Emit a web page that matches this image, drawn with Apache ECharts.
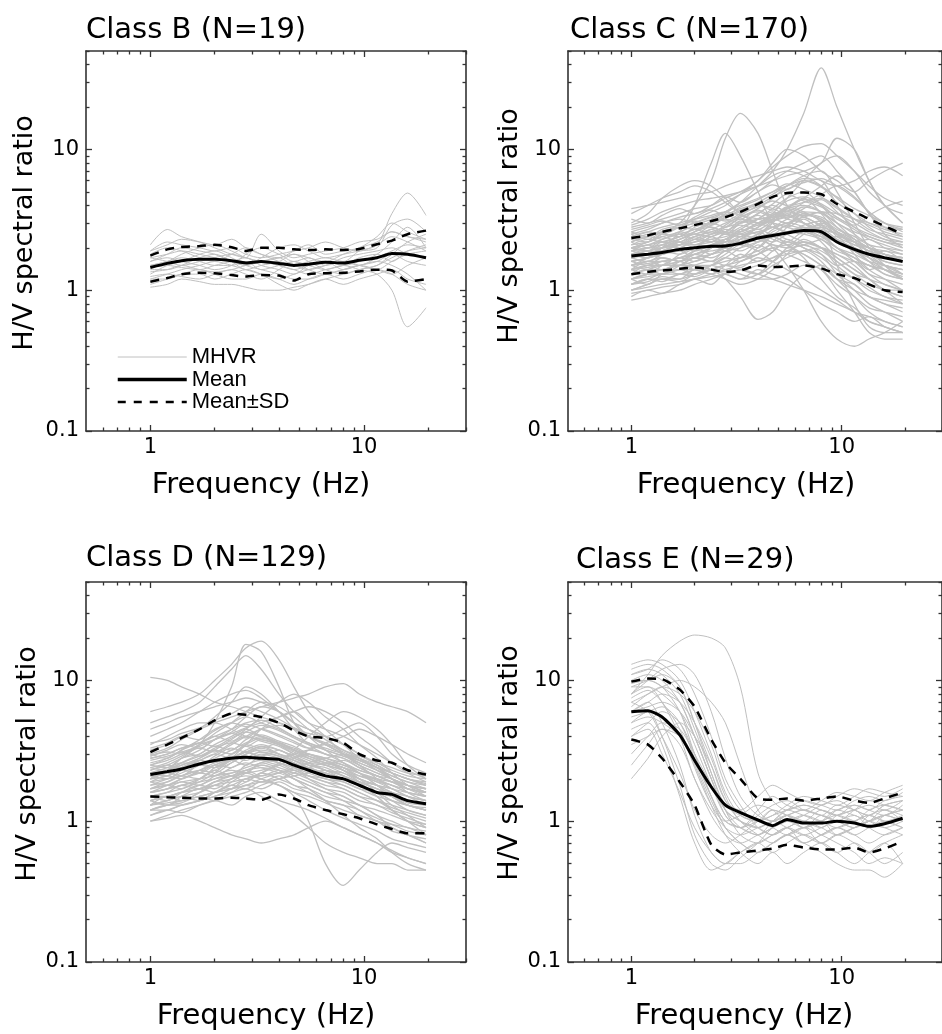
<!DOCTYPE html>
<html>
<head>
<meta charset="utf-8">
<script src="https://cdn.jsdelivr.net/npm/echarts@6/dist/echarts.min.js"></script>
<style>
html, body { margin: 0; padding: 0; background: #fff; }
#chart { width: 942px; height: 1034px; }
</style>
</head>
<body>
<div id="chart"></div>
<script>
// frequency samples (Hz) shared by every curve
const freq = [1, 1.2, 1.4, 1.7, 2, 2.4, 2.8, 3.3, 4, 4.7, 5.5, 6.6, 8, 9.5, 11.5, 13.5, 16, 19.5];

// tick values
const xMajor = [1, 10];
const xMinor = [0.6, 0.7, 0.8, 0.9, 2, 3, 4, 5, 6, 7, 8, 9, 20, 30];
const yMajor = [0.1, 1, 10];
const yMinor = [0.2, 0.3, 0.4, 0.5, 0.6, 0.7, 0.8, 0.9, 2, 3, 4, 5, 6, 7, 8, 9, 20, 30, 40, 50];

const titles = ['Class B (N=19)', 'Class C (N=170)', 'Class D (N=129)', 'Class E (N=29)'];

// ---- Class B ----
const mhvrB = [
  [2.1,2.7,2.4,2.2,2.0,1.8,1.7,2.5,1.9,1.7,1.8,1.9,2.0,2.2,2.3,2.6,2.4,2.2],
  [1.9,2.1,2.3,2.2,2.1,2.3,2.0,1.8,1.7,1.9,2.1,1.8,1.9,2.0,2.4,3.0,2.6,2.3],
  [1.7,1.8,1.9,1.8,1.7,1.6,1.5,1.6,1.7,1.5,1.6,1.7,1.6,1.9,2.1,3.5,4.9,3.4],
  [1.5,1.6,1.7,1.6,1.5,1.5,1.6,1.4,1.5,1.6,1.5,1.4,1.5,1.4,1.3,1.0,0.55,0.75],
  [1.2,1.3,1.4,1.5,1.6,1.5,1.4,1.3,1.2,1.3,1.4,1.5,1.6,1.5,1.4,1.6,1.8,1.9],
  [1.05,1.1,1.2,1.15,1.1,1.1,1.05,1.0,1.0,1.05,1.1,1.2,1.3,1.4,1.5,1.7,1.9,2.0],
  [1.3,1.5,1.6,1.8,1.9,1.7,1.5,1.4,1.3,1.2,1.2,1.3,1.4,1.5,1.6,1.5,1.3,1.0],
  [1.6,1.7,1.6,1.5,1.4,1.5,1.8,2.0,1.8,1.6,1.7,1.5,1.6,1.5,1.7,1.9,2.1,2.0],
  [1.4,1.4,1.5,1.7,1.8,1.6,1.4,1.5,1.6,1.8,1.6,1.4,1.3,1.4,1.5,1.8,2.2,2.5],
  [1.1,1.2,1.3,1.3,1.2,1.3,1.4,1.3,1.1,1.0,1.1,1.2,1.1,1.2,1.3,1.4,1.2,1.1],
  [1.8,2.0,1.9,1.7,1.6,1.8,2.0,1.8,1.6,1.5,1.4,1.5,1.7,1.8,1.9,2.0,1.8,1.7],
  [1.5,1.6,1.8,2.0,2.1,1.9,1.7,1.6,1.5,1.4,1.5,1.6,1.5,1.6,1.8,2.2,2.8,2.0],
  [1.25,1.3,1.25,1.2,1.3,1.4,1.3,1.2,1.4,1.6,1.4,1.3,1.4,1.5,1.4,1.3,1.5,1.7],
  [1.6,1.8,2.0,1.9,1.8,1.6,1.5,1.7,2.0,2.1,1.9,1.7,1.8,1.9,2.0,2.9,3.2,2.6],
  [1.35,1.4,1.5,1.4,1.35,1.4,1.5,1.6,1.5,1.4,1.3,1.4,1.5,1.7,1.8,1.6,1.9,2.1],
  [1.45,1.5,1.45,1.4,1.5,1.6,1.7,1.5,1.4,1.3,1.5,1.6,1.4,1.5,1.6,1.8,1.6,1.5],
  [1.9,2.2,2.1,2.0,1.9,2.0,1.8,1.7,1.8,1.9,2.0,2.2,2.0,1.9,2.1,2.4,2.2,1.9],
  [1.2,1.2,1.3,1.4,1.3,1.2,1.2,1.3,1.2,1.1,1.2,1.3,1.2,1.3,1.4,1.3,1.1,1.0],
  [1.7,1.6,1.5,1.6,1.7,1.8,1.7,1.6,1.7,1.8,1.7,1.6,1.8,2.0,2.2,2.6,2.4,2.3]
];
const meanB  = [1.45,1.55,1.62,1.66,1.66,1.62,1.56,1.6,1.55,1.5,1.53,1.58,1.56,1.63,1.7,1.82,1.8,1.7];
const upperB = [1.76,1.95,2.03,2.06,2.1,2.02,1.9,2.0,2.0,1.95,1.93,1.95,1.93,1.96,2.12,2.25,2.5,2.65];
const lowerB = [1.15,1.22,1.3,1.33,1.32,1.28,1.25,1.28,1.27,1.17,1.3,1.32,1.33,1.36,1.4,1.38,1.15,1.2];

// ---- Class C ----
const mhvrC = [
  [1.8,1.9,2.0,2.1,2.2,2.3,2.4,2.6,2.9,3.1,3.3,3.4,3.2,2.6,2.2,1.9,1.7,1.6],
  [2.5,2.7,3.0,3.3,3.5,3.8,4.2,4.8,5.5,6.5,7.0,6.5,5.5,4.2,3.5,3.0,2.7,2.5],
  [1.2,1.3,1.3,1.4,1.4,1.5,1.6,1.7,1.8,2.0,2.1,2.2,2.0,1.7,1.4,1.2,1.0,0.9],
  [3.5,4.0,4.5,5.0,5.5,5.0,4.2,3.5,3.0,3.2,3.5,3.0,2.6,2.2,1.9,1.7,1.5,1.4],
  [1.0,1.1,1.2,1.2,1.3,1.4,1.5,1.4,1.3,1.5,1.7,1.9,2.0,1.8,1.5,1.2,1.0,0.8],
  [2.0,2.2,2.5,3.0,4.0,6.0,12,18,13,7,4,3,2.5,2.2,2.0,1.8,1.6,1.5],
  [1.5,1.7,2.0,2.6,4.0,8.0,13,9,5,3,2.5,2.2,2.0,1.8,1.6,1.5,1.3,1.2],
  [2.0,2.1,2.2,2.4,2.6,3.0,3.5,4.2,5.5,7,10,18,38,20,10,6,4,3.5],
  [1.1,1.2,1.3,1.3,1.3,1.4,1.5,1.6,1.8,2.2,2.8,3.5,3.0,1.5,0.8,0.55,0.5,0.5],
  [2.8,3.0,3.2,3.5,3.8,4.0,4.5,5.0,6.0,8,10,9,7,6,5,6,7,8],
  [1.5,1.6,1.6,1.7,1.8,1.9,2.0,2.2,2.5,2.8,3.2,3.6,3.5,3.0,2.5,2.1,1.8,1.7],
  [0.85,0.9,0.95,1.0,1.1,1.2,1.3,1.4,1.3,1.2,1.1,1.0,0.9,0.8,0.7,0.6,0.55,0.5],
  [2.2,2.4,2.6,2.8,3.0,3.3,3.6,4.0,4.5,5.0,5.5,6.0,5.5,4.5,3.5,2.8,2.4,2.2],
  [1.7,1.8,1.7,1.6,1.5,1.4,1.3,1.2,1.3,1.6,2.0,2.5,3.0,2.6,2.0,1.6,1.3,1.2],
  [3.0,3.5,4.5,5.5,6.0,5.5,4.5,3.5,3.0,2.8,2.6,2.5,2.3,2.0,1.8,1.6,1.5,1.4],
  [1.3,1.4,1.5,1.6,1.7,1.8,2.0,2.3,2.8,3.5,4.5,6.0,8.0,9.0,7.0,5.0,4.0,3.0],
  [1.9,2.0,2.1,2.3,2.5,2.7,3.0,3.3,3.8,4.5,5.5,6.5,7.0,5.0,3.0,2.0,1.5,1.2],
  [1.4,1.5,1.5,1.6,1.7,1.8,1.9,2.0,2.2,2.4,2.6,2.8,2.5,2.0,1.6,1.3,1.1,1.0],
  [2.6,2.8,3.0,3.2,3.0,2.8,2.6,2.5,2.6,2.8,3.0,3.3,3.6,3.5,3.2,3.0,2.8,2.7],
  [1.0,1.05,1.1,1.15,1.2,1.25,1.3,1.4,1.5,1.7,1.9,2.1,1.8,1.3,1.0,0.8,0.7,0.6],
  [2.3,2.5,2.6,2.8,3.2,3.6,4.0,4.8,6.0,7.5,9.0,10.5,11,9,7,5.5,4.5,4.0],
  [1.6,1.7,1.8,1.9,2.0,2.1,2.2,2.3,2.4,2.5,2.6,2.7,2.8,2.5,2.2,2.0,1.9,1.8],
  [1.2,1.25,1.3,1.4,1.5,1.5,1.4,1.3,1.2,1.2,1.3,1.5,1.4,1.0,0.7,0.5,0.45,0.45],
  [3.8,4.0,4.2,4.5,4.8,5.0,5.5,6.0,6.5,7.0,7.5,7.0,6.0,5.5,6.0,7.0,7.5,6.5],
  [1.8,1.9,2.0,2.2,2.4,2.6,2.8,3.0,3.2,3.3,3.4,3.0,2.5,2.0,1.7,1.5,1.4,1.3],
  [1.4,1.45,1.5,1.5,1.4,1.3,1.2,1.1,1.2,1.4,1.8,2.2,2.0,1.5,1.2,1.0,0.9,0.8],
  [2.1,2.2,2.4,2.6,2.9,3.2,3.6,4.2,5.0,6.0,7.0,8.0,9.0,7.0,5.0,3.5,2.5,2.0],
  [1.6,1.7,1.9,2.1,2.3,2.5,2.6,2.5,2.3,2.1,2.0,2.1,2.3,2.4,2.2,2.0,1.8,1.7],
  [1.1,1.2,1.2,1.3,1.4,1.5,1.7,2.0,2.4,3.0,3.8,4.5,3.5,2.5,1.8,1.4,1.2,1.0],
  [2.4,2.6,2.8,3.0,3.2,3.4,3.6,3.4,3.2,3.0,2.8,2.6,2.4,2.2,2.0,1.8,1.7,1.6],
  [1.3,1.4,1.4,1.5,1.5,1.4,1.2,0.9,0.62,0.7,1.0,1.3,1.5,1.3,1.1,0.9,0.8,0.7],
  [2.0,2.1,2.3,2.5,2.7,3.0,3.3,3.7,4.2,4.8,5.5,6.2,6.0,4.0,2.5,1.8,1.5,1.3],
  [1.5,1.55,1.6,1.7,1.8,2.0,2.3,2.7,3.2,3.8,4.5,5.0,4.0,3.0,2.3,2.0,1.8,1.6],
  [0.95,1.0,1.05,1.1,1.2,1.3,1.4,1.5,1.6,1.7,1.8,1.9,1.6,1.2,0.9,0.7,0.6,0.55],
  [1.9,2.0,2.0,2.1,2.1,2.2,2.3,2.5,2.8,3.2,3.8,4.5,5.5,6.5,5.0,3.5,2.8,2.4],
  [1.7,1.8,2.0,2.3,2.6,3.0,3.4,3.8,4.0,3.8,3.4,3.0,2.6,2.2,1.9,1.7,1.5,1.4],
  [2.9,3.2,3.6,4.0,4.3,4.5,4.7,5.0,5.5,6.0,6.5,7.0,8.0,12,10,6,4,3],
  [1.2,1.3,1.4,1.5,1.6,1.8,2.0,2.2,2.4,2.0,1.5,1.0,0.6,0.45,0.4,0.45,0.5,0.6],
  [1.6,1.7,1.8,2.0,2.2,2.5,2.9,3.4,4.0,4.6,5.2,5.8,6.2,5.5,4.5,3.6,3.0,2.6],
  [1.4,1.5,1.6,1.7,1.9,2.1,2.3,2.6,3.0,3.4,3.8,4.0,3.6,2.8,2.2,1.7,1.4,1.2],
  [1.9,2.1,1.9,2.2,2.0,2.4,2.2,2.7,2.5,3.0,2.8,3.2,2.6,2.3,2.0,1.8,1.9,1.6],
  [1.5,1.4,1.6,1.5,1.7,1.6,1.9,1.7,2.1,1.9,2.3,2.0,1.8,1.5,1.6,1.3,1.2,1.1],
  [2.2,2.0,2.3,2.5,2.3,2.7,2.5,3.0,3.4,3.1,3.6,3.3,2.9,2.5,2.2,2.3,2.0,1.8],
  [1.3,1.5,1.4,1.6,1.8,1.7,1.9,2.2,2.0,2.4,2.2,2.6,2.3,1.9,1.7,1.4,1.5,1.3],
  [1.7,1.6,1.8,1.9,1.7,2.0,2.3,2.1,2.5,2.8,2.6,2.9,3.1,2.4,2.1,1.9,1.6,1.5],
  [2.0,2.2,2.4,2.2,2.6,2.8,2.6,3.1,2.9,3.4,3.8,3.5,3.2,2.7,2.4,2.1,2.0,1.9],
  [1.1,1.2,1.15,1.3,1.25,1.4,1.5,1.45,1.7,1.6,1.9,1.8,1.5,1.2,1.1,0.9,0.85,0.8],
  [1.8,2.0,2.1,2.0,2.3,2.2,2.5,2.4,2.8,3.2,3.0,3.5,3.3,2.8,2.3,2.0,1.8,1.7],
  [2.6,2.4,2.7,2.9,3.1,2.9,3.3,3.6,4.0,3.7,4.3,4.6,4.1,3.5,3.0,2.6,2.3,2.1],
  [1.6,1.7,1.9,1.8,2.0,2.3,2.1,2.4,2.7,2.5,2.9,2.7,2.4,2.0,1.7,1.5,1.4,1.2],
  [1.4,1.3,1.5,1.7,1.6,1.8,2.0,1.9,2.2,2.5,2.3,2.1,1.9,1.6,1.3,1.1,1.0,0.9],
  [2.1,2.3,2.2,2.4,2.7,2.5,2.8,3.2,3.0,3.5,3.2,3.0,2.7,2.5,2.1,2.0,1.7,1.6],
  [1.9,1.8,2.0,2.2,2.1,2.4,2.6,2.9,2.7,3.1,3.4,3.9,3.6,3.0,2.6,2.4,2.2,2.0],
  [1.2,1.3,1.4,1.3,1.5,1.6,1.5,1.7,1.9,2.1,2.0,2.3,2.0,1.6,1.3,1.2,1.0,1.0],
  [2.4,2.6,2.5,2.8,3.0,3.3,3.1,3.5,3.9,4.3,4.0,4.4,4.0,3.3,2.8,2.5,2.3,2.2],
  [1.7,1.9,1.8,2.0,1.9,2.1,2.3,2.2,2.4,2.2,2.5,2.7,2.9,2.6,2.3,2.0,1.8,1.6],
  [1.5,1.6,1.7,1.6,1.8,2.0,2.2,2.5,2.3,2.7,3.0,2.8,2.2,1.7,1.4,1.2,1.1,1.0],
  [2.0,1.9,2.1,2.3,2.5,2.4,2.7,2.6,3.0,3.3,3.7,3.4,3.6,3.2,2.7,2.3,2.1,1.9],
  [1.0,1.1,1.2,1.15,1.3,1.4,1.35,1.6,1.8,2.0,1.8,1.6,1.4,1.1,0.9,0.75,0.7,0.65],
  [2.3,2.2,2.5,2.4,2.8,3.0,2.8,3.3,3.6,3.3,3.9,4.2,4.5,3.9,3.2,2.7,2.5,2.3],
  [0.9,1.0,0.95,1.1,1.2,1.1,1.3,1.2,1.4,1.3,1.2,1.0,0.8,0.7,0.6,0.65,0.55,0.5],
  [3.2,3.0,3.4,3.8,3.5,4.0,4.6,4.2,5.0,5.6,5.2,6.0,5.4,4.6,3.8,3.4,3.0,2.8],
  [1.3,1.4,1.3,1.5,1.7,1.6,1.8,2.1,1.9,1.6,1.4,1.2,1.0,0.85,0.7,0.65,0.6,0.55],
  [2.7,2.9,3.1,2.9,3.3,3.7,3.4,3.9,4.4,5.0,5.7,5.2,4.6,3.8,3.2,2.9,2.6,2.4],
  [1.8,1.7,1.9,2.1,2.4,2.2,2.6,3.0,3.5,4.1,4.8,4.3,3.9,3.3,2.9,3.4,3.9,4.3],
  [1.6,1.5,1.7,1.6,1.9,2.1,1.9,2.3,2.6,2.3,2.1,1.8,1.5,1.2,1.0,0.9,0.8,0.75],
  [2.2,2.4,2.3,2.6,2.5,2.9,3.2,3.0,3.5,4.0,3.6,4.2,4.8,5.5,4.6,3.6,3.0,2.7],
  [1.1,1.15,1.25,1.2,1.4,1.3,1.5,1.8,1.6,1.9,2.2,2.0,1.7,1.4,1.2,1.05,0.9,0.85],
  [2.5,2.3,2.6,2.8,2.7,3.1,3.4,3.2,3.7,3.4,3.9,3.6,3.1,2.6,2.2,1.9,1.8,1.7],
  [1.4,1.6,1.5,1.8,2.0,1.8,2.1,2.4,2.2,2.6,2.9,3.3,2.8,2.3,1.9,1.6,1.4,1.25],
  [2.0,1.9,2.2,2.1,2.4,2.6,2.5,2.8,3.2,3.6,3.3,3.8,4.4,3.6,2.8,2.4,2.2,2.1],
  [1.2,1.1,1.3,1.4,1.3,1.5,1.7,1.6,2.0,2.4,2.1,1.7,1.2,0.9,0.75,0.6,0.55,0.5]
];
const meanC  = [1.75,1.8,1.85,1.95,2.0,2.05,2.06,2.15,2.35,2.45,2.55,2.65,2.6,2.2,1.95,1.8,1.7,1.6];
const upperC = [2.35,2.45,2.6,2.75,2.9,3.1,3.3,3.6,4.1,4.6,4.9,4.95,4.8,4.1,3.6,3.2,2.85,2.5];
const lowerC = [1.3,1.35,1.38,1.42,1.45,1.4,1.35,1.38,1.5,1.46,1.47,1.5,1.43,1.3,1.22,1.1,1.0,0.97];

// ---- Class D ----
const mhvrD = [
  [10.5,10,9,8,7,6.5,6,5.5,5,4.5,4,3.5,3,2.8,2.5,2.2,2.0,1.8],
  [2.0,2.3,2.8,3.5,5,9,18,16,9,5,4,3.5,3,2.6,2.3,2,1.8,1.6],
  [1.5,1.6,1.7,1.9,2.2,2.8,3.5,4.5,5.5,6,5,4,3,2.5,2,1.7,1.5,1.3],
  [3.0,3.3,3.8,4.5,5.5,7,9,8,6,4.5,3.5,3,2.8,2.5,2.2,2,1.8,1.6],
  [1.2,1.3,1.3,1.4,1.5,1.6,1.7,1.5,1.3,1.1,0.9,0.7,0.6,0.55,0.5,0.5,0.45,0.45],
  [2.5,2.8,3.2,3.8,4.5,5,5.5,5,4.5,4,3.6,3.3,3,2.7,2.4,2.1,1.9,1.7],
  [1.8,2.0,2.2,2.5,2.8,3.2,3.6,4,3.6,3.2,2.8,2.5,2.2,2,1.8,1.6,1.4,1.3],
  [1.0,1.05,1.1,1.0,0.9,0.8,0.75,0.7,0.75,0.8,0.9,1.0,0.9,0.8,0.7,0.6,0.55,0.5],
  [4,4.5,5,6,7,8,8.5,7.5,6,5,4.5,4,3.5,3,2.5,2.2,2,1.8],
  [1.4,1.5,1.6,1.8,2.0,2.2,2.4,2.6,2.8,3,3.2,3,2.6,2.2,1.8,1.5,1.3,1.2],
  [2.2,2.3,2.5,2.8,3.2,3.8,4.5,5.5,7,8,7,5.5,4.5,3.5,2.8,2.2,1.8,1.5],
  [1.3,1.4,1.5,1.6,1.8,2,2.1,2,1.8,1.5,1.0,0.5,0.35,0.45,0.6,0.7,0.65,0.6],
  [3.5,4,4.5,5,5,4.5,4,3.8,3.5,3.2,3,2.8,2.5,2.3,2.1,1.9,1.7,1.6],
  [1.6,1.7,1.8,2.0,2.3,2.6,3,3.2,3,2.7,2.4,2.2,2.0,1.8,1.6,1.4,1.2,1.1],
  [5,5.5,6,7,9,12,15,12,8,6,5,4.5,4,3.5,3,2.6,2.3,2],
  [1.1,1.2,1.3,1.4,1.6,1.8,2.0,2.2,2.5,2.8,3,2.7,2.3,1.9,1.5,1.2,1,0.9],
  [2.8,3,3.3,3.6,4,4.5,5,5.2,5,4.6,4.2,4,4.5,5,4,3,2.5,2.2],
  [1.5,1.5,1.6,1.7,1.8,1.9,2.0,2.1,2.2,2.3,2.0,1.7,1.5,1.3,1.1,0.9,0.8,0.7],
  [2.0,2.2,2.4,2.7,3,3.5,4,4.5,4.8,4.5,4,3.5,3,2.5,2.2,2.0,1.8,1.7],
  [1.2,1.2,1.3,1.4,1.5,1.7,1.9,2.2,2.6,3.2,4,5,6,5.5,4.5,3.5,2.5,2],
  [2.5,2.7,3,3.5,4.2,5,6,7,6.5,5.5,4.5,3.8,3.2,2.8,2.4,2.0,1.7,1.5],
  [1.7,1.8,1.9,2.0,2.1,2.2,2.3,2.4,2.3,2.2,2.1,2.0,1.8,1.6,1.4,1.2,1.0,0.9],
  [3.2,3.5,4,4.5,5,5.5,6,6.5,7,7.5,8,9,9.5,8,7,6.5,6,5],
  [1.3,1.35,1.4,1.5,1.6,1.7,1.8,1.9,2,2.1,2.2,2.3,2.1,1.8,1.5,1.2,1.0,0.8],
  [2.3,2.5,2.8,3.2,3.8,4.5,5.5,6.5,6,5,4,3.2,2.6,2.2,1.8,1.5,1.3,1.2],
  [1.9,2.0,2.1,2.3,2.5,2.8,3.1,3.4,3.2,2.9,2.6,2.3,2.1,1.9,1.7,1.5,1.4,1.3],
  [1.0,1.1,1.2,1.3,1.4,1.5,1.6,1.8,2.0,2.2,2.4,2.6,2.4,2.0,1.6,1.3,1.1,0.9],
  [6,6.5,7,8,10,13,17,19,14,9,6,4.5,3.5,2.8,2.3,2,1.8,1.6],
  [1.6,1.7,1.8,1.9,2,2.1,2.2,2.3,2.5,2.8,3.2,3.6,4,4.5,4,3.5,3,2.6],
  [2.7,2.9,3.1,3.4,3.8,4.2,4.6,5,5.5,6,6.5,6,5,4,3.2,2.6,2.2,1.9],
  [1.4,1.5,1.6,1.7,1.9,2.1,2.3,2.5,2.3,2.0,1.7,1.4,1.1,0.9,0.75,0.6,0.5,0.45],
  [2.1,2.3,2.6,3,3.5,4,4.5,4,3.5,3,2.7,2.5,2.3,2.1,2,1.9,1.8,1.7],
  [4.5,5,5.5,6,6.5,7,7.5,7,6,5,4.5,4,3.5,3,2.6,2.3,2.1,2.0],
  [1.2,1.3,1.4,1.5,1.6,1.7,1.8,2,2.2,2.4,2.6,2.8,3.0,2.8,2.4,2,1.6,1.4],
  [2.0,2.2,2.1,2.5,2.4,2.8,3.1,2.9,3.2,2.8,2.6,2.3,2.2,1.9,1.7,1.6,1.4,1.3],
  [1.6,1.7,1.9,1.8,2.1,2.3,2.2,2.6,2.4,2.2,2.0,1.8,1.7,1.5,1.3,1.2,1.1,1.0],
  [2.5,2.4,2.8,3.0,3.4,3.2,3.8,4.1,3.7,3.4,3.0,2.7,2.5,2.2,1.9,1.8,1.6,1.5],
  [1.8,1.9,2.1,2.3,2.2,2.6,2.9,2.7,2.5,2.3,2.4,2.1,1.9,1.7,1.6,1.4,1.3,1.2],
  [2.9,3.1,3.0,3.5,3.8,4.2,3.9,4.5,4.1,3.7,3.3,3.0,2.8,2.4,2.1,2.0,1.7,1.6],
  [1.4,1.5,1.4,1.6,1.8,1.7,2.0,1.9,2.1,1.8,1.7,1.5,1.4,1.3,1.1,1.0,0.9,0.85],
  [2.2,2.4,2.6,2.5,2.9,3.3,3.1,3.4,3.0,2.7,2.5,2.4,2.1,1.9,1.8,1.6,1.5,1.4],
  [1.7,1.8,1.7,2.0,2.3,2.1,2.5,2.7,2.6,2.4,2.1,1.9,1.8,1.6,1.4,1.3,1.2,1.1],
  [3.3,3.6,4.0,3.8,4.4,5.0,4.7,5.2,4.6,4.0,3.6,3.2,2.9,2.6,2.3,2.1,1.9,1.8],
  [1.5,1.6,1.8,1.7,1.9,2.0,2.3,2.1,2.3,2.1,1.9,1.7,1.6,1.4,1.3,1.15,1.05,0.95],
  [2.1,2.0,2.3,2.6,2.4,2.7,3.0,3.3,3.0,2.8,2.5,2.3,2.0,1.9,1.7,1.5,1.3,1.25],
  [2.6,2.8,3.1,2.9,3.3,3.6,3.4,3.8,3.5,3.1,2.8,2.6,2.4,2.1,1.9,1.7,1.6,1.5],
  [1.3,1.4,1.5,1.4,1.6,1.8,1.7,1.9,1.8,1.6,1.5,1.35,1.2,1.1,1.0,0.9,0.8,0.75],
  [1.9,2.1,2.0,2.3,2.6,2.9,2.7,3.0,2.8,2.6,2.3,2.2,2.0,1.8,1.6,1.5,1.4,1.3],
  [2.4,2.3,2.6,2.9,3.2,3.0,3.5,3.3,3.6,3.2,2.9,2.7,2.4,2.2,2.0,1.8,1.7,1.6],
  [1.6,1.8,2.0,2.2,2.1,2.4,2.6,2.4,2.2,2.0,1.8,1.6,1.5,1.3,1.2,1.1,1.0,0.95],
  [2.0,2.1,2.3,2.2,2.5,2.8,3.1,2.8,2.6,2.4,2.2,2.0,1.9,1.7,1.5,1.4,1.3,1.2],
  [2.8,3.0,3.3,3.6,3.4,3.9,4.3,4.0,3.6,3.3,3.0,2.8,2.6,2.3,2.1,1.9,1.8,1.7],
  [1.2,1.3,1.35,1.5,1.4,1.6,1.8,1.7,1.9,1.7,1.6,1.4,1.3,1.2,1.0,0.95,0.9,0.8],
  [2.3,2.5,2.4,2.7,3.0,2.8,3.2,3.5,3.2,2.9,2.6,2.5,2.3,2.0,1.8,1.7,1.5,1.4],
  [1.1,1.2,1.15,1.3,1.4,1.3,1.5,1.6,1.4,1.3,1.2,1.05,0.9,0.8,0.7,0.62,0.55,0.5],
  [3.6,3.8,4.2,4.6,5.2,5.8,6.5,6.0,5.3,4.6,4.0,3.6,3.2,2.9,2.6,2.4,2.2,2.1],
  [1.9,1.8,2.0,2.2,2.5,2.4,2.8,3.1,2.9,2.6,2.4,2.6,2.3,2.0,1.8,1.7,1.5,1.4],
  [2.4,2.6,2.9,3.3,3.1,3.6,4.0,3.7,3.4,3.0,2.8,2.5,2.7,2.4,2.1,1.9,1.7,1.6],
  [1.5,1.4,1.6,1.8,1.7,2.0,2.2,2.0,1.8,1.6,1.4,1.2,1.05,0.95,0.85,0.75,0.7,0.65],
  [2.9,3.2,3.5,3.3,3.8,4.3,4.9,4.5,4.0,3.6,3.3,3.5,3.1,2.7,2.4,2.2,2.0,1.9],
  [1.3,1.5,1.4,1.6,1.9,2.1,1.9,2.2,2.0,1.8,1.6,1.4,1.3,1.1,1.0,0.85,0.8,0.7],
  [2.2,2.1,2.4,2.7,2.6,3.0,3.4,3.1,2.9,2.7,2.4,2.2,2.0,1.8,1.6,1.5,1.35,1.3],
  [1.7,1.9,2.1,2.0,2.4,2.7,2.5,2.9,2.6,2.3,2.1,1.9,1.7,1.5,1.4,1.25,1.15,1.05],
  [2.0,2.3,2.5,2.8,3.2,3.0,3.5,3.9,3.6,3.2,2.9,2.6,2.4,2.2,1.95,1.8,1.6,1.5],
  [1.4,1.3,1.5,1.7,1.6,1.9,2.2,2.5,2.3,2.0,1.8,1.6,1.4,1.2,1.05,0.95,0.85,0.8],
  [3.0,2.8,3.2,3.6,4.0,3.7,4.3,4.8,4.4,3.9,3.5,3.2,2.9,2.7,2.4,2.2,2.0,1.85]
];
const meanD  = [2.15,2.25,2.35,2.55,2.7,2.8,2.85,2.8,2.75,2.5,2.3,2.1,2.0,1.8,1.6,1.55,1.4,1.33];
const upperD = [3.1,3.5,3.9,4.5,5.2,5.8,5.7,5.5,5.0,4.4,4.0,3.9,3.6,3.0,2.7,2.6,2.3,2.15];
const lowerD = [1.5,1.48,1.47,1.45,1.45,1.47,1.45,1.42,1.55,1.45,1.3,1.2,1.12,1.05,0.95,0.88,0.82,0.82];

// ---- Class E ----
const mhvrE = [
  [13,14,13,10,6,3,1.6,1.1,1.0,1.2,1.1,0.9,1.0,1.1,1.0,0.9,1.1,1.2],
  [11,12,14,12,8,4,2,1.3,0.9,0.8,0.9,1.0,0.8,0.9,1.0,1.1,1.0,0.9],
  [9,10,11,9,5,2.2,1.2,0.8,0.7,0.8,0.9,0.7,0.8,0.9,0.8,0.7,0.8,0.9],
  [7,8,9,10,9,7,5,2.5,1.2,1.0,1.1,1.2,1.1,1.3,1.2,1.1,1.3,1.4],
  [8,11,15,19,21,20,17,9,2.2,1.4,1.2,1.3,1.2,1.1,1.3,1.2,1.4,1.5],
  [6,7,5,2.5,1.1,0.6,0.5,0.6,0.7,0.8,0.9,0.8,0.7,0.8,0.9,1.0,0.9,0.8],
  [5,6,4,1.8,0.8,0.5,0.45,0.55,0.7,0.9,1.0,0.9,1.1,1.0,0.9,1.1,1.2,1.0],
  [4,5,6,5,3,1.5,0.9,0.7,0.6,0.7,0.8,0.9,0.8,0.7,0.6,0.5,0.55,0.5],
  [3,4,5,4.5,3,1.8,1.2,1.0,0.9,0.8,0.9,1.0,0.9,0.8,0.9,1.0,1.1,1.0],
  [2,2.8,4,5,4,2.5,1.4,1.0,0.8,0.7,0.8,0.7,0.6,0.5,0.45,0.45,0.4,0.5],
  [10,11,10,7,4,2,1.1,0.9,1.2,1.5,1.3,1.2,1.4,1.6,1.5,1.4,1.6,1.8],
  [8,9,8,6,3.5,1.8,1.1,0.9,1.0,1.1,1.3,1.5,1.4,1.3,1.5,1.7,1.6,1.5],
  [7,6,4,2.2,1.2,0.8,0.7,0.8,1.0,1.2,1.1,1.0,1.2,1.1,1.0,1.2,1.3,1.2],
  [5.5,6,6.5,5,2.8,1.5,1.0,0.9,0.8,0.9,1.0,1.1,1.0,0.9,1.0,1.1,1.0,1.1],
  [12,13,12,9,5,2.5,1.4,1.2,1.5,1.8,1.6,1.4,1.3,1.5,1.7,1.6,1.5,1.7],
  [6,7,8,7,5,2.8,1.5,1.0,0.9,1.0,0.9,0.8,0.9,1.0,1.1,0.9,0.8,0.9],
  [4.5,5,3.5,1.5,0.7,0.45,0.5,0.6,0.7,0.6,0.7,0.8,0.7,0.6,0.7,0.6,0.5,0.6],
  [9,9,7,4,2,1.2,0.9,0.8,0.9,1.0,1.2,1.1,1.0,1.2,1.3,1.2,1.1,1.3],
  [6.5,8,9,8,6,3.5,1.8,1.2,1.0,0.9,0.8,0.9,1.0,0.8,0.9,1.0,1.2,1.1],
  [3.5,4,4.5,3.5,2.0,1.1,0.8,0.7,0.8,0.9,1.1,1.0,0.9,1.1,1.2,1.3,1.2,1.4],
  [10,10,9,6,3,1.5,1.0,0.9,1.1,1.3,1.4,1.2,1.1,1.0,1.2,1.4,1.3,1.2],
  [5,5.5,5,4,2.5,1.3,0.8,0.6,0.5,0.6,0.5,0.6,0.7,0.6,0.5,0.6,0.7,0.5],
  [8,10,12,13,11,6,2.8,1.5,1.1,1.0,1.1,1.2,1.1,1.0,0.9,1.0,1.1,1.0],
  [7.5,8.5,7,4.5,2.4,1.3,1.0,1.1,1.3,1.2,1.0,1.1,1.3,1.4,1.2,1.1,1.3,1.4],
  [2.5,3.5,4.5,4,2.6,1.4,0.9,0.7,0.6,0.7,0.8,0.7,0.8,0.9,0.8,0.9,1.0,0.9],
  [11,12,11,8,4.5,2.2,1.3,1.1,1.0,1.1,1.2,1.3,1.2,1.1,1.2,1.0,1.1,1.2],
  [9.5,10,9,7,4,2,1.2,1.0,0.9,1.0,1.1,0.9,1.0,1.2,1.1,1.0,0.9,1.0],
  [4,4.5,3,1.6,0.9,0.6,0.5,0.5,0.6,0.7,0.8,0.9,0.7,0.8,0.7,0.6,0.7,0.8],
  [6,6.5,7,6,4,2,1.2,0.9,0.8,1.0,1.2,1.4,1.3,1.2,1.4,1.5,1.4,1.6]
];
const meanE  = [6.0,6.1,5.5,4.1,2.7,1.75,1.3,1.15,1.02,0.93,1.03,0.97,0.97,1.0,0.97,0.92,0.96,1.05];
const upperE = [9.8,10.3,10.2,8.6,6.5,3.8,2.6,2.0,1.45,1.42,1.45,1.4,1.45,1.5,1.4,1.35,1.45,1.6];
const lowerE = [3.8,3.5,2.8,1.9,1.3,0.68,0.58,0.6,0.62,0.64,0.68,0.65,0.63,0.63,0.65,0.6,0.64,0.72];

// layout of the four panels
const panels = [
  { curves: mhvrB, mean: meanB, upper: upperB, lower: lowerB, left: 86,  top: 51,
    titleLeft: 86,  titleTop: 16,  greyWidth: 1,   xShift: 15, yShift: 8,  yGap: 48 },
  { curves: mhvrC, mean: meanC, upper: upperC, lower: lowerC, left: 568, top: 51,
    titleLeft: 570, titleTop: 16,  greyWidth: 1.3, xShift: 9,  yShift: 15, yGap: 44 },
  { curves: mhvrD, mean: meanD, upper: upperD, lower: lowerD, left: 86,  top: 582,
    titleLeft: 86,  titleTop: 544, greyWidth: 1.3, xShift: 10, yShift: 8,  yGap: 44 },
  { curves: mhvrE, mean: meanE, upper: upperE, lower: lowerE, left: 568, top: 582,
    titleLeft: 576, titleTop: 546, greyWidth: 1,   xShift: 11, yShift: 9,  yGap: 44 }
];

const FONT = 'DejaVu Sans';
const AXIS_COLOR = '#333';

function pairs(vals) {
  return vals.map((v, i) => [freq[i], v]);
}

function makeX(gi, position, ticks, len, main, p) {
  const labelled = main && position === 'bottom';
  return {
    type: 'log', logBase: 10, gridIndex: gi, position: position,
    min: 0.5, max: 30,
    splitLine: { show: false },
    axisLine: { show: main, lineStyle: { color: AXIS_COLOR, width: 1.6 } },
    axisTick: { show: true, inside: true, length: len, customValues: ticks,
                lineStyle: { color: AXIS_COLOR, width: 1.3 } },
    axisLabel: labelled
      ? { show: true, customValues: xMajor, fontSize: 21, fontFamily: FONT, color: '#000', margin: 6 }
      : { show: false },
    name: labelled ? 'Frequency (Hz)' : '',
    nameLocation: 'middle', nameGap: 40,
    nameTextStyle: { fontSize: 29, fontFamily: FONT, color: '#000',
                     padding: [0, labelled ? p.xShift * 2 : 0, 0, 0] }
  };
}

function makeY(gi, position, ticks, len, main, p) {
  const labelled = main && position === 'left';
  return {
    type: 'log', logBase: 10, gridIndex: gi, position: position,
    min: 0.1, max: 50,
    splitLine: { show: false },
    axisLine: { show: main, lineStyle: { color: AXIS_COLOR, width: 1.6 } },
    axisTick: { show: true, inside: true, length: len, customValues: ticks,
                lineStyle: { color: AXIS_COLOR, width: 1.3 } },
    axisLabel: labelled
      ? { show: true, customValues: yMajor, fontSize: 21, fontFamily: FONT, color: '#000', margin: 7 }
      : { show: false },
    name: labelled ? 'H/V spectral ratio' : '',
    nameLocation: 'middle', nameGap: p.yGap,
    nameTextStyle: { fontSize: 27, fontFamily: FONT, color: '#000',
                     padding: [0, 0, 0, labelled ? p.yShift * 2 : 0] }
  };
}

const grids = [], xAxes = [], yAxes = [], series = [], titleList = [];

panels.forEach((p, gi) => {
  grids.push({ left: p.left, top: p.top, width: 380, height: 380, containLabel: false });
  titleList.push({
    text: titles[gi], left: p.titleLeft, top: p.titleTop, padding: 0,
    textStyle: { fontSize: 29, fontWeight: 'normal', fontFamily: FONT, color: '#000' }
  });
  xAxes.push(makeX(gi, 'bottom', xMajor, 6, true, p));
  xAxes.push(makeX(gi, 'bottom', xMinor, 3.5, false, p));
  xAxes.push(makeX(gi, 'top', xMajor, 6, true, p));
  xAxes.push(makeX(gi, 'top', xMinor, 3.5, false, p));
  yAxes.push(makeY(gi, 'left', yMajor, 6, true, p));
  yAxes.push(makeY(gi, 'left', yMinor, 3.5, false, p));
  yAxes.push(makeY(gi, 'right', yMajor, 6, true, p));
  yAxes.push(makeY(gi, 'right', yMinor, 3.5, false, p));

  const ax = gi * 4;
  p.curves.forEach(c => {
    series.push({
      type: 'line', name: 'MHVR', xAxisIndex: ax, yAxisIndex: ax,
      data: pairs(c), symbol: 'none', smooth: 0.3, silent: true, z: 2,
      lineStyle: { color: '#c0c0c0', width: p.greyWidth }, itemStyle: { color: '#c0c0c0' }
    });
  });
  [p.upper, p.lower].forEach(sd => {
    series.push({
      type: 'line', name: 'Mean±SD', xAxisIndex: ax, yAxisIndex: ax,
      data: pairs(sd), symbol: 'none', smooth: 0.2, silent: true, z: 3,
      lineStyle: { color: '#000', width: 2.5, type: [9, 7] }, itemStyle: { color: '#000' }
    });
  });
  series.push({
    type: 'line', name: 'Mean', xAxisIndex: ax, yAxisIndex: ax,
    data: pairs(p.mean), symbol: 'none', smooth: 0.2, silent: true, z: 4,
    lineStyle: { color: '#000', width: 3 }, itemStyle: { color: '#000' }
  });
});

const chart = echarts.init(document.getElementById('chart'));
chart.setOption({
  animation: false,
  backgroundColor: '#fff',
  title: titleList,
  legend: {
    data: [
      { name: 'MHVR', lineStyle: { color: '#c0c0c0', width: 1 } },
      { name: 'Mean', lineStyle: { color: '#000', width: 3.5 } },
      { name: 'Mean±SD', lineStyle: { color: '#000', width: 2.5, type: [8, 8] } }
    ],
    orient: 'vertical', left: 111, top: 341,
    itemWidth: 69, itemHeight: 14, itemGap: 0.5,
    selectedMode: false,
    itemStyle: { opacity: 0 },
    textStyle: { fontSize: 22, lineHeight: 22, fontFamily: 'Liberation Sans', color: '#000',
                 padding: [0, 0, 0, 0] }
  },
  grid: grids,
  xAxis: xAxes,
  yAxis: yAxes,
  series: series
});
</script>
</body>
</html>
